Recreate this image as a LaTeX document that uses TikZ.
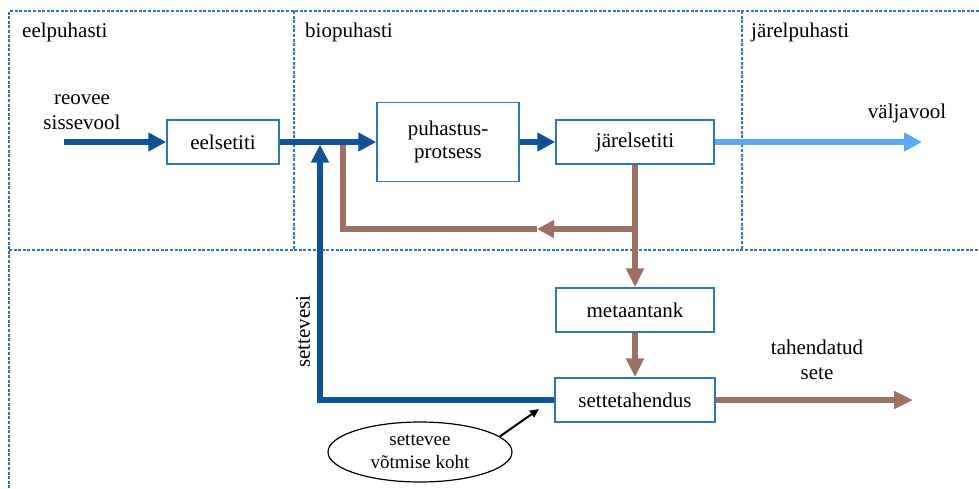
\documentclass[tikz,border=0pt]{standalone}
\usepackage{fontspec}
\setmainfont{Liberation Serif}
\usetikzlibrary{arrows.meta,shapes.geometric}
\definecolor{flowblue}{RGB}{16,82,150}
\definecolor{lightflow}{RGB}{92,170,238}
\definecolor{sludge}{RGB}{158,112,100}
\definecolor{boxblue}{RGB}{46,117,182}
\definecolor{zoneblue}{RGB}{46,117,182}
\begin{document}
\begin{tikzpicture}[x=1pt,y=-1pt,
  zone/.style={draw=zoneblue, line width=1.2pt, dash pattern=on 3pt off 1.6pt},
  unit/.style={draw=boxblue, line width=1.5pt, fill=white, inner sep=0pt, align=center,
    font=\fontsize{21}{23.5}\selectfont},
  lbl/.style={inner sep=0pt, align=center, font=\fontsize{21}{25}\selectfont},
  bighead/.style={-{Triangle[length=18pt,width=18pt]}},
  blueflow/.style={draw=flowblue, line width=6pt, line join=miter},
  lightline/.style={draw=lightflow, line width=5.5pt},
  brownflow/.style={draw=sludge, line width=6.5pt, line join=miter},
  pointer/.style={draw=black, line width=2pt, -{Triangle[length=9pt,width=8pt]}},
  callout/.style={ellipse, draw=black, line width=1.2pt, fill=white, inner sep=0pt,
    minimum width=184pt, minimum height=60pt, align=center, font=\fontsize{19}{23}\selectfont}
]
\useasboundingbox (0,0) rectangle (979,488);
\fill[white] (0,0) rectangle (979,488);

% zones
\draw[zone] (979,11) -- (9,11) -- (9,490);
\draw[zone] (9,250) -- (981,250);
\draw[zone] (294,11) -- (294,250);
\draw[zone] (742,11) -- (742,250);

\node[lbl, anchor=base west] (zpre) at (22,37) {eelpuhasti};
\node[lbl, anchor=base west] (zbio) at (305,37) {biopuhasti};
\node[lbl, anchor=base west] (zpost) at (751,37) {järelpuhasti};

% units
\node[unit, minimum width=112pt, minimum height=44pt] (eel) at (223,142) {eelsetiti};
\node[unit, minimum width=142pt, minimum height=79pt] (puh) at (448,142) {puhastus-\\protsess};
\node[unit, minimum width=158pt, minimum height=44pt] (jarel) at (635,142) {järelsetiti};
\node[unit, minimum width=158pt, minimum height=44pt] (meta) at (635,310) {metaantank};
\node[unit, minimum width=160pt, minimum height=44pt] (sett) at (635,400) {settetahendus};

% labels
\node[lbl] (inlbl) at (82,112) {reovee\\sissevool};
\node[lbl, anchor=base] (outlbl) at (907,118) {väljavool};
\node[lbl] (sludgelbl) at (817,360) {tahendatud\\sete};
\node[lbl, rotate=90] (retlbl) at (303,331.5) {settevesi};
\node[callout] (ell) at (420,452) {settevee\\võtmise koht};

% coordinates
\coordinate (inflow) at (64,142);
\coordinate (outflow) at (922,142);
\coordinate (split) at (635,229);
\coordinate (recarrow) at (537,229);
\coordinate (recturn) at (343,229);
\coordinate (recend) at (343,142);
\coordinate (rettip) at (320,144.5);
\coordinate (sludgeout) at (913,400);
\coordinate (ptr) at (539,409);

% sludge (brown) flows
\draw[brownflow] (recarrow) -- (recturn) -- (recend);
\draw[brownflow, -{Triangle[length=17pt,width=17pt]}] (split) -- (recarrow);
\draw[brownflow, -{Triangle[length=19pt,width=17pt]}] (jarel.south) -- (meta.north);
\draw[brownflow, -{Triangle[length=19pt,width=17pt]}] (meta.south) -- (sett.north);
\draw[brownflow, -{Triangle[length=19pt,width=17pt]}] (sett.east) -- (sludgeout);

% water (blue) flows
\draw[blueflow, bighead] (inflow) -- (eel.west);
\draw[blueflow, bighead] (eel.east) -- (puh.west);
\draw[blueflow, bighead] (puh.east) -- (jarel.west);
\draw[blueflow, -{Triangle[length=18pt,width=17pt]}] (sett.west) -| (rettip);
\draw[lightline, bighead] (jarel.east) -- (outflow);

% pointer
\draw[pointer] (ell.11) -- (ptr);
\end{tikzpicture}
\end{document}
